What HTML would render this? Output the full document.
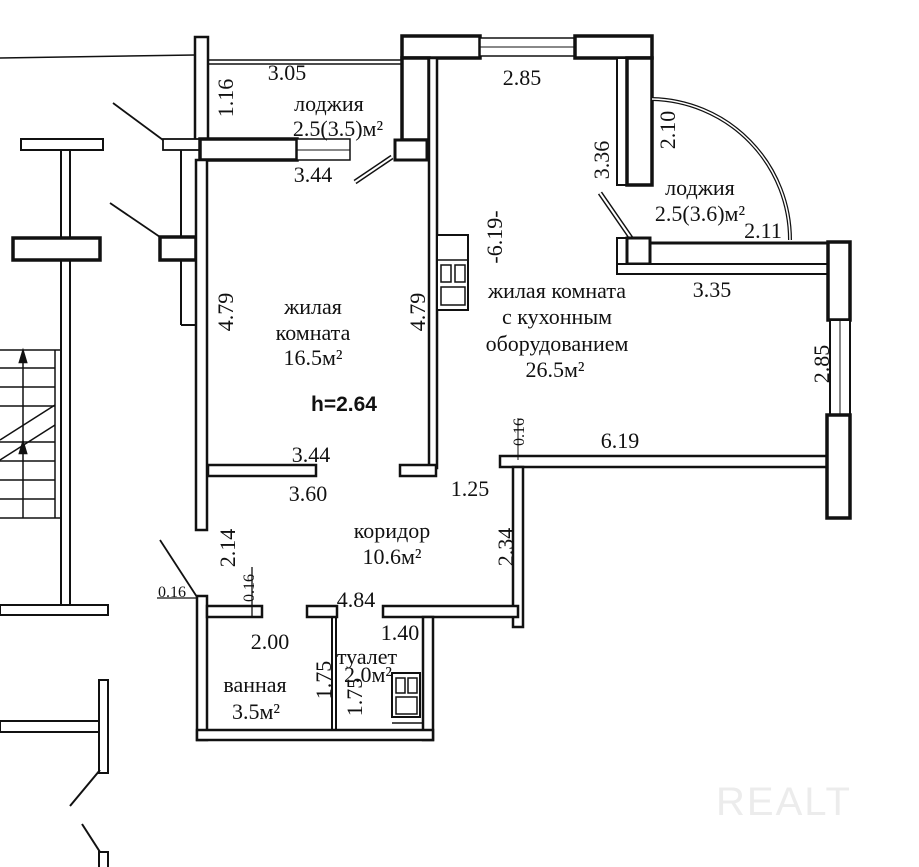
<!DOCTYPE html>
<html><head><meta charset="utf-8"><style>
body{margin:0;background:#fff}
svg{display:block}
text{font-family:"Liberation Serif",serif;font-size:22px;fill:#111;text-anchor:middle}
.s{font-size:16px}
</style></head><body>
<svg width="919" height="867" viewBox="0 0 919 867" xmlns="http://www.w3.org/2000/svg">
<g fill="#fff" stroke="#111" stroke-width="2.5">
<line x1="0" y1="58" x2="195" y2="55" stroke-width="1.5"/>
<rect x="195" y="37" width="13" height="103"/>
<line x1="208" y1="60" x2="402" y2="60" stroke-width="1.5"/>
<line x1="208" y1="64" x2="402" y2="64" stroke-width="1.5"/>
<rect x="402" y="36" width="78" height="22" stroke-width="3.5"/>
<rect x="480" y="38" width="95" height="18" stroke-width="1.5"/>
<line x1="480" y1="47" x2="575" y2="47" stroke-width="1"/>
<rect x="575" y="36" width="77" height="22" stroke-width="3.5"/>
<rect x="402" y="58" width="27" height="82" stroke-width="3.5"/>
<rect x="429" y="58" width="8" height="410"/>
<rect x="163" y="139" width="37" height="11" stroke-width="1.8"/>
<rect x="200" y="139" width="97" height="21" stroke-width="3.5"/>
<rect x="297" y="139" width="53" height="21" stroke-width="1.5"/>
<line x1="297" y1="150" x2="350" y2="150" stroke-width="1"/>
<rect x="395" y="140" width="32" height="20" stroke-width="3"/>
<line x1="181" y1="150" x2="181" y2="325" stroke-width="2"/>
<line x1="181" y1="325" x2="196" y2="325" stroke-width="2"/>
<rect x="160" y="237" width="36" height="23" stroke-width="3.5"/>
<rect x="196" y="160" width="11" height="370"/>
<line x1="355" y1="182" x2="392" y2="157" stroke-width="5"/>
<line x1="355" y1="182" x2="392" y2="157" stroke="#fff" stroke-width="2"/>
<line x1="113" y1="103" x2="163" y2="140" stroke-width="1.8"/>
<line x1="110" y1="203" x2="160" y2="237" stroke-width="1.8"/>
<rect x="21" y="139" width="82" height="11" stroke-width="2"/>
<rect x="61" y="150" width="9" height="457" stroke-width="2"/>
<rect x="13" y="238" width="87" height="22" stroke-width="3.5"/>
<rect x="0" y="605" width="108" height="10" stroke-width="2"/>
<line x1="0" y1="350" x2="60" y2="350" stroke-width="1.5"/>
<line x1="55" y1="350" x2="55" y2="518" stroke-width="1.5"/>
<line x1="0" y1="518" x2="60" y2="518" stroke-width="1.5"/>
<line x1="0" y1="368" x2="55" y2="368" stroke-width="1.5"/>
<line x1="0" y1="387" x2="55" y2="387" stroke-width="1.5"/>
<line x1="0" y1="406" x2="55" y2="406" stroke-width="1.5"/>
<line x1="0" y1="442" x2="55" y2="442" stroke-width="1.5"/>
<line x1="0" y1="461" x2="55" y2="461" stroke-width="1.5"/>
<line x1="0" y1="480" x2="55" y2="480" stroke-width="1.5"/>
<line x1="0" y1="499" x2="55" y2="499" stroke-width="1.5"/>
<line x1="0" y1="440" x2="55" y2="405" stroke-width="1.5"/>
<line x1="0" y1="460" x2="55" y2="425" stroke-width="1.5"/>
<line x1="23" y1="352" x2="23" y2="518" stroke-width="1.5"/>
<polygon points="23,352 20,362 26,362" fill="#111"/>
<polygon points="23,443 20,453 26,453" fill="#111"/>
<rect x="208" y="465" width="108" height="11"/>
<rect x="400" y="465" width="36" height="11"/>
<rect x="500" y="456" width="328" height="11"/>
<rect x="513" y="467" width="10" height="160"/>
<line x1="518" y1="418" x2="518" y2="460" stroke-width="1"/>
<rect x="437" y="235" width="31" height="75" stroke-width="2"/>
<line x1="437" y1="260" x2="468" y2="260" stroke-width="1.5"/>
<rect x="441" y="265" width="10" height="17" stroke-width="1.5"/>
<rect x="455" y="265" width="10" height="17" stroke-width="1.5"/>
<rect x="441" y="287" width="24" height="18" stroke-width="1.5"/>
<rect x="617" y="58" width="10" height="127" stroke-width="2"/>
<rect x="627" y="58" width="25" height="127" stroke-width="3.5"/>
<path d="M652 99 A141 141 0 0 1 790 240" fill="none" stroke-width="4"/>
<path d="M652 99 A141 141 0 0 1 790 240" fill="none" stroke="#fff" stroke-width="1.5"/>
<line x1="600" y1="193" x2="631" y2="238" stroke-width="5"/>
<line x1="600" y1="193" x2="631" y2="238" stroke="#fff" stroke-width="2"/>
<rect x="617" y="238" width="10" height="26" stroke-width="2"/>
<rect x="627" y="238" width="23" height="26" stroke-width="3"/>
<rect x="650" y="243" width="178" height="22" stroke-width="3"/>
<rect x="617" y="264" width="211" height="10" stroke-width="2"/>
<rect x="828" y="242" width="22" height="78" stroke-width="3.5"/>
<rect x="830" y="320" width="20" height="95" stroke-width="2"/>
<line x1="840" y1="320" x2="840" y2="415" stroke-width="1"/>
<rect x="827" y="415" width="23" height="103" stroke-width="3.5"/>
<line x1="160" y1="540" x2="197" y2="597" stroke-width="1.8"/>
<line x1="157" y1="598" x2="197" y2="598" stroke-width="1.3"/>
<rect x="197" y="596" width="10" height="144"/>
<rect x="207" y="606" width="55" height="11"/>
<line x1="252" y1="567" x2="252" y2="617" stroke-width="1.3"/>
<rect x="307" y="606" width="30" height="11"/>
<rect x="383" y="606" width="135" height="11"/>
<line x1="332" y1="617" x2="332" y2="730" stroke-width="2"/>
<line x1="336" y1="617" x2="336" y2="730" stroke-width="2"/>
<rect x="423" y="617" width="10" height="123"/>
<rect x="197" y="730" width="236" height="10"/>
<rect x="392" y="673" width="28" height="44" stroke-width="2"/>
<rect x="396" y="678" width="9" height="15" stroke-width="1.5"/>
<rect x="408" y="678" width="9" height="15" stroke-width="1.5"/>
<rect x="396" y="697" width="21" height="17" stroke-width="1.5"/>
<line x1="392" y1="723" x2="423" y2="723" stroke-width="1.5"/>
<rect x="99" y="680" width="9" height="93" stroke-width="2"/>
<rect x="0" y="721" width="99" height="11" stroke-width="2"/>
<line x1="70" y1="806" x2="100" y2="770" stroke-width="2"/>
<line x1="82" y1="824" x2="100" y2="852" stroke-width="2"/>
<rect x="99" y="852" width="9" height="20" stroke-width="2"/>
</g>
<text x="287" y="80">3.05</text>
<text x="329" y="111">лоджия</text>
<text x="338" y="136">2.5(3.5)м²</text>
<text x="313" y="182">3.44</text>
<text transform="translate(233,98) rotate(-90)">1.16</text>
<text transform="translate(233,312) rotate(-90)">4.79</text>
<text transform="translate(425,312) rotate(-90)">4.79</text>
<text x="313" y="314">жилая</text>
<text x="313" y="340">комната</text>
<text x="313" y="365">16.5м²</text>
<text x="344" y="411" style="font-family:'Liberation Sans',sans-serif;font-weight:bold;font-size:21px">h=2.64</text>
<text x="311" y="462">3.44</text>
<text x="308" y="501">3.60</text>
<text x="522" y="85">2.85</text>
<text transform="translate(609,160) rotate(-90)">3.36</text>
<text transform="translate(675,130) rotate(-90)">2.10</text>
<text x="700" y="195">лоджия</text>
<text x="700" y="221">2.5(3.6)м²</text>
<text x="763" y="238">2.11</text>
<text transform="translate(502,237) rotate(-90)">-6.19-</text>
<text x="557" y="298">жилая комната</text>
<text x="557" y="324">с кухонным</text>
<text x="557" y="351">оборудованием</text>
<text x="555" y="377">26.5м²</text>
<text x="712" y="297">3.35</text>
<text transform="translate(829,364) rotate(-90)">2.85</text>
<text x="620" y="448">6.19</text>
<text transform="translate(524,432) rotate(-90)" class="s">0.16</text>
<text x="470" y="496">1.25</text>
<text x="392" y="538">коридор</text>
<text x="392" y="564">10.6м²</text>
<text transform="translate(513,547) rotate(-90)">2.34</text>
<text transform="translate(235,548) rotate(-90)">2.14</text>
<text x="172" y="597" class="s">0.16</text>
<text transform="translate(254,588) rotate(-90)" class="s">0.16</text>
<text x="356" y="607">4.84</text>
<text x="270" y="649">2.00</text>
<text x="400" y="640">1.40</text>
<text transform="translate(331,680) rotate(-90)">1.75</text>
<text transform="translate(362,697) rotate(-90)">1.75</text>
<text x="367" y="664">туалет</text>
<text x="368" y="682">2.0м²</text>
<text x="255" y="692">ванная</text>
<text x="256" y="719">3.5м²</text>
<text x="784" y="815" style="font-family:'Liberation Sans',sans-serif;font-size:40px;fill:#ececec;letter-spacing:2px">REALT</text>
</svg>
</body></html>
